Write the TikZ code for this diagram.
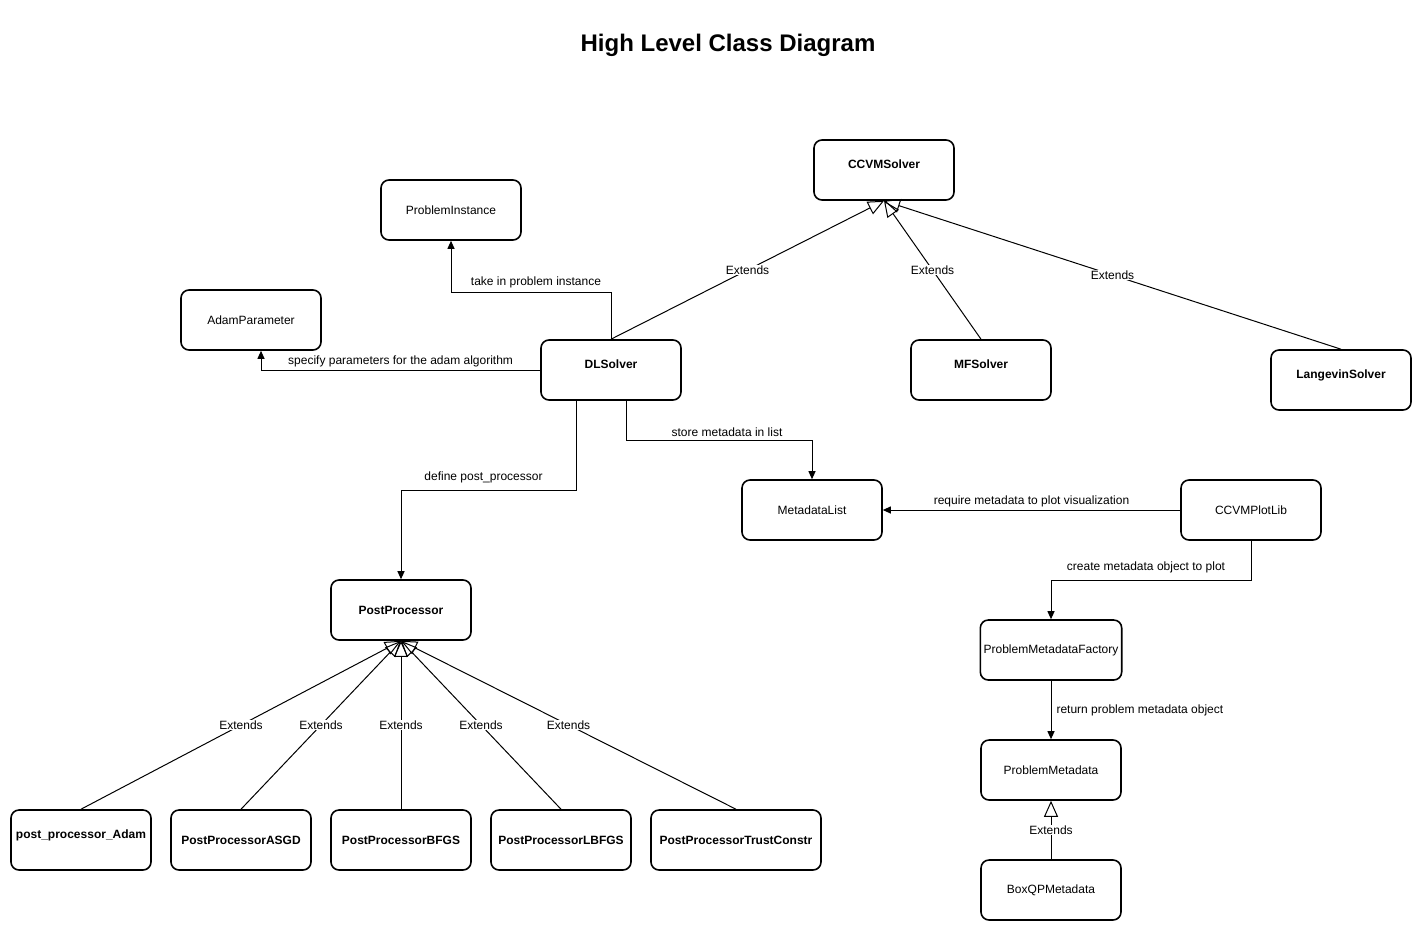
\documentclass[tikz,border=0pt]{standalone}
\usepackage{fontspec}
\setmainfont{Liberation Sans}
\usetikzlibrary{arrows.meta}
\begin{document}
\begin{tikzpicture}[x=1pt,y=-1pt,
    box/.style={draw,rounded corners=8pt,line width=1.6pt,minimum width=140pt,minimum height=60pt,font=\fontsize{12}{14}\selectfont},
    cls/.style={box,font=\fontsize{12}{14}\selectfont\bfseries},
    raised/.style={text depth=11pt},
    arr/.style={-{Stealth[length=8pt,width=7pt,inset=0pt]},line width=1pt},
    ext/.style={-{Triangle[open,length=16pt,width=14pt]},line width=1pt},
    lbl/.style={font=\fontsize{12}{14}\selectfont,inner sep=1pt},
    extlbl/.style={lbl,fill=white} ]
    \useasboundingbox (0,0) rectangle (1423,932);
    \node at (728,45) (title) {\fontsize{24}{28}\selectfont\bfseries High Level Class Diagram};
    % solvers
    \node at (884,170) [cls,raised] (ccvm) {CCVMSolver};
    \node at (451,210) [box] (pinst) {ProblemInstance};
    \node at (251,320) [box] (adam) {AdamParameter};
    \node at (611,370) [cls,raised] (dl) {DLSolver};
    \node at (981,370) [cls,raised] (mf) {MFSolver};
    \node at (1341,380) [cls,raised] (lang) {LangevinSolver};
    % metadata
    \node at (812,510) [box] (mlist) {MetadataList};
    \node at (1251,510) [box] (plot) {CCVMPlotLib};
    \node at (1051,650) [box] (pmf) {ProblemMetadataFactory};
    \node at (1051,770) [box] (pmeta) {ProblemMetadata};
    \node at (1051,890) [box] (boxqp) {BoxQPMetadata};
    % post processors
    \node at (401,610) [cls] (pp) {PostProcessor};
    \node at (81,840) [cls,raised] (ppadam) {post\_processor\_Adam};
    \node at (241,840) [cls] (ppasgd) {PostProcessorASGD};
    \node at (401,840) [cls] (ppbfgs) {PostProcessorBFGS};
    \node at (561,840) [cls] (pplbfgs) {PostProcessorLBFGS};
    \node at (736,840) [cls,minimum width=170pt] (pptrust) {PostProcessorTrustConstr};
    % extends
    \draw [ext] (dl.north) to node[extlbl]{Extends} (ccvm.south);
    \draw [ext] (mf.north) to node[extlbl]{Extends} (ccvm.south);
    \draw [ext] (lang.north) to node[extlbl]{Extends} (ccvm.south);
    \draw [ext] (ppadam.north) to node[extlbl]{Extends} (pp.south);
    \draw [ext] (ppasgd.north) to node[extlbl]{Extends} (pp.south);
    \draw [ext] (ppbfgs.north) to node[extlbl]{Extends} (pp.south);
    \draw [ext] (pplbfgs.north) to node[extlbl]{Extends} (pp.south);
    \draw [ext] (pptrust.north) to node[extlbl]{Extends} (pp.south);
    \draw [ext] (boxqp.north) to node[extlbl]{Extends} (pmeta.south);
    % associations
    \draw [arr] (dl.north) -- (611,292) -- node[lbl,above=3pt,xshift=5]{take in problem instance} (451,292) -- (pinst.south);
    \draw [arr] (dl.west) -- node[lbl,above=2pt]{specify parameters for the adam algorithm} (261,370) -- ([xshift=10]adam.south);
    \draw [arr] ([xshift=15]dl.south) -- (626,440) -- node[lbl,above=2pt,xshift=8]{store metadata in list} (812,440) -- (mlist.north);
    \draw [arr] ([xshift=-35]dl.south) -- (576,490) -- node[lbl,above=6pt,xshift=-5]{define post\_processor} (401,490) -- (pp.north);
    \draw [arr] (plot.west) to node[lbl,above=2pt]{require metadata to plot visualization} (mlist.east);
    \draw [arr] (plot.south) -- (1251,580) -- node[lbl,above=6pt,xshift=-5]{create metadata object to plot} (1051,580) -- (pmf.north);
    \draw [arr] (pmf.south) to node[lbl,right=4pt]{return problem metadata object} (pmeta.north);
\end{tikzpicture}
\end{document}
